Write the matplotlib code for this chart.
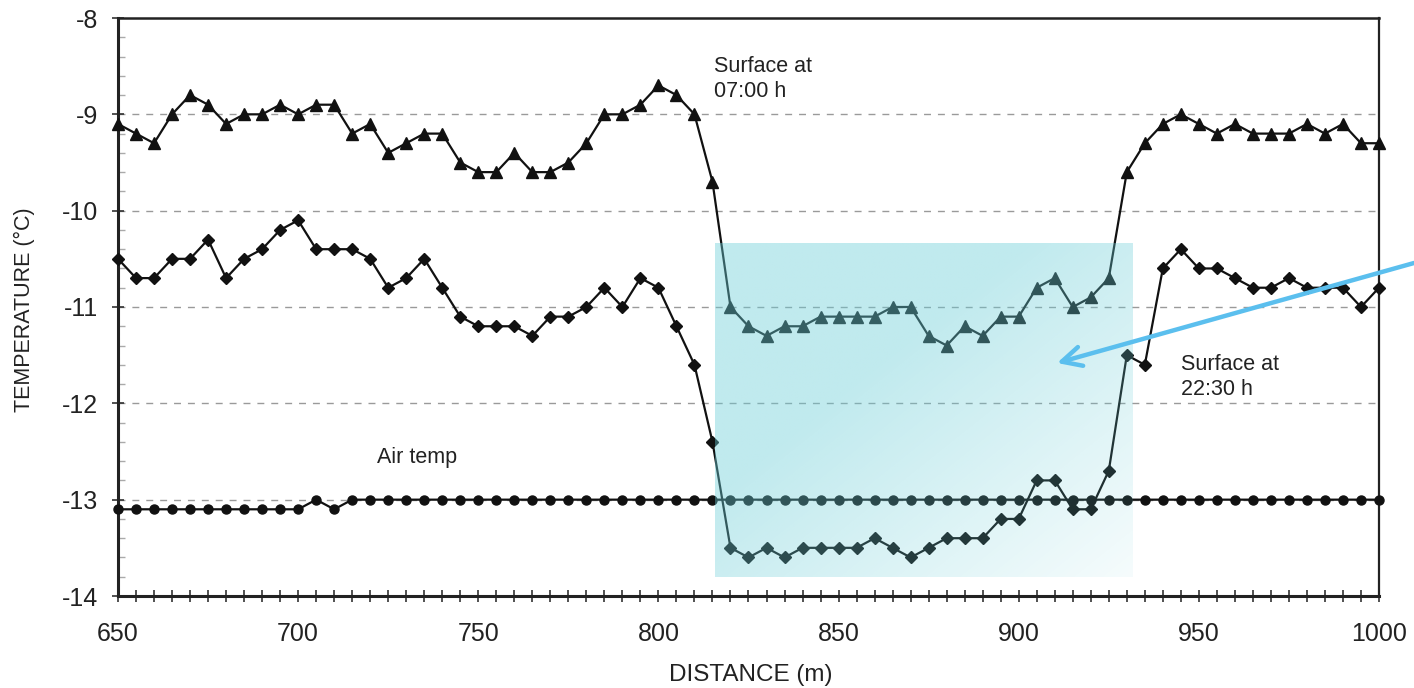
import numpy as np
import matplotlib
matplotlib.use("Agg")
import matplotlib.pyplot as plt
from matplotlib.ticker import MultipleLocator

plt.rcParams['font.family'] = ['Liberation Sans', 'DejaVu Sans']
plt.rcParams['axes.unicode_minus'] = False

# distance along the road (m), one reading every 5 m
distance = list(range(650, 1005, 5))

# surface temperature at 07:00 h (triangles)
surf_0700 = [-9.1, -9.2, -9.3, -9.0, -8.8, -8.9, -9.1, -9.0, -9.0, -8.9,
             -9.0, -8.9, -8.9, -9.2, -9.1, -9.4, -9.3, -9.2, -9.2, -9.5,
             -9.6, -9.6, -9.4, -9.6, -9.6, -9.5, -9.3, -9.0, -9.0, -8.9,
             -8.7, -8.8, -9.0, -9.7, -11.0, -11.2, -11.3, -11.2, -11.2, -11.1,
             -11.1, -11.1, -11.1, -11.0, -11.0, -11.3, -11.4, -11.2, -11.3, -11.1,
             -11.1, -10.8, -10.7, -11.0, -10.9, -10.7, -9.6, -9.3, -9.1, -9.0,
             -9.1, -9.2, -9.1, -9.2, -9.2, -9.2, -9.1, -9.2, -9.1, -9.3,
             -9.3]

# surface temperature at 22:30 h (diamonds)
surf_2230 = [-10.5, -10.7, -10.7, -10.5, -10.5, -10.3, -10.7, -10.5, -10.4, -10.2,
             -10.1, -10.4, -10.4, -10.4, -10.5, -10.8, -10.7, -10.5, -10.8, -11.1,
             -11.2, -11.2, -11.2, -11.3, -11.1, -11.1, -11.0, -10.8, -11.0, -10.7,
             -10.8, -11.2, -11.6, -12.4, -13.5, -13.6, -13.5, -13.6, -13.5, -13.5,
             -13.5, -13.5, -13.4, -13.5, -13.6, -13.5, -13.4, -13.4, -13.4, -13.2,
             -13.2, -12.8, -12.8, -13.1, -13.1, -12.7, -11.5, -11.6, -10.6, -10.4,
             -10.6, -10.6, -10.7, -10.8, -10.8, -10.7, -10.8, -10.8, -10.8, -11.0,
             -10.8]

# air temperature (circles)
air_temp = [-13.1] * 11 + [-13.0, -13.1] + [-13.0] * 58

# highlighted stretch (distance range, temperature range)
box_x = [815.8, 931.7]
box_y = [-13.80, -10.34]

fig = plt.figure(figsize=(14.14, 6.88), dpi=100)
ax = fig.add_axes([118 / 1414, 92 / 688, 1261 / 1414, 578 / 688])

for y in range(-13, -8):
    ax.axhline(y, color='#9a9a9a', lw=1.0, ls=(0, (5, 5)), zorder=1)

ax.plot(distance, surf_0700, color='#111111', lw=1.6, marker='^', ms=8.5,
        clip_on=False, zorder=3)
ax.plot(distance, surf_2230, color='#111111', lw=1.6, marker='D', ms=6,
        clip_on=False, zorder=3)
ax.plot(distance, air_temp, color='#111111', lw=1.6, marker='o', ms=6.5,
        clip_on=False, zorder=3)

# teal overlay fading toward the lower right
ny, nx = 200, 200
u = np.linspace(0, 1, nx)[None, :]
v = np.linspace(0, 1, ny)[:, None]
s = np.clip((u + v - 0.75) / 1.25, 0, 1)
rgba = np.zeros((ny, nx, 4))
rgba[..., 0] = 105 / 255
rgba[..., 1] = 205 / 255
rgba[..., 2] = 215 / 255
rgba[..., 3] = 0.42 * (1 - 0.85 * s)
ax.imshow(rgba, extent=[box_x[0], box_x[1], box_y[0], box_y[1]],
          origin='upper', aspect='auto', zorder=5, interpolation='bilinear')

ax.set_xlim(650, 1000)
ax.set_ylim(-14, -8)

ax.xaxis.set_major_locator(MultipleLocator(50))
ax.xaxis.set_minor_locator(MultipleLocator(5))
ax.yaxis.set_major_locator(MultipleLocator(1))
ax.yaxis.set_minor_locator(MultipleLocator(0.2))
ax.tick_params(axis='x', which='both', direction='inout', length=8, width=1.2,
               color='#333333', labelsize=18, pad=15, labelcolor='#222222')
ax.tick_params(axis='y', which='major', direction='inout', length=9, width=1.2,
               color='#333333', labelsize=18, pad=10, labelcolor='#222222')
ax.tick_params(axis='y', which='minor', direction='in', length=5, width=1,
               color='#aaaaaa')

for side, lw in [('left', 2.2), ('bottom', 2.2), ('top', 1.8), ('right', 1.6)]:
    ax.spines[side].set_linewidth(lw)
    ax.spines[side].set_color('#222222')

ax.set_xlabel('DISTANCE (m)', fontsize=17.5, color='#222222', va='center')
ax.set_ylabel('TEMPERATURE (°C)', fontsize=15.5, color='#222222', va='center')
ax.xaxis.set_label_coords(0.502, -0.137)
ax.yaxis.set_label_coords(-0.074, 0.495)

ax.text(815.3, -8.633, 'Surface at\n07:00 h', fontsize=15.5, ha='left',
        va='center', color='#222222', linespacing=1.2, zorder=6)
ax.text(945, -11.727, 'Surface at\n22:30 h', fontsize=15.5, ha='left',
        va='center', color='#222222', linespacing=1.2, zorder=6)
ax.text(721.9, -12.567, 'Air temp', fontsize=15.5, ha='left', va='center',
        color='#222222', zorder=6)

ax.annotate('', xy=(1057, 325), xycoords='figure pixels',
            xytext=(1414, 425), textcoords='figure pixels',
            arrowprops=dict(arrowstyle='->, head_length=0.7, head_width=0.35',
                            color='#5bbfee', lw=3.2, mutation_scale=20,
                            shrinkA=0, shrinkB=0),
            annotation_clip=False, zorder=7)

fig.savefig('out.png', dpi=100)
